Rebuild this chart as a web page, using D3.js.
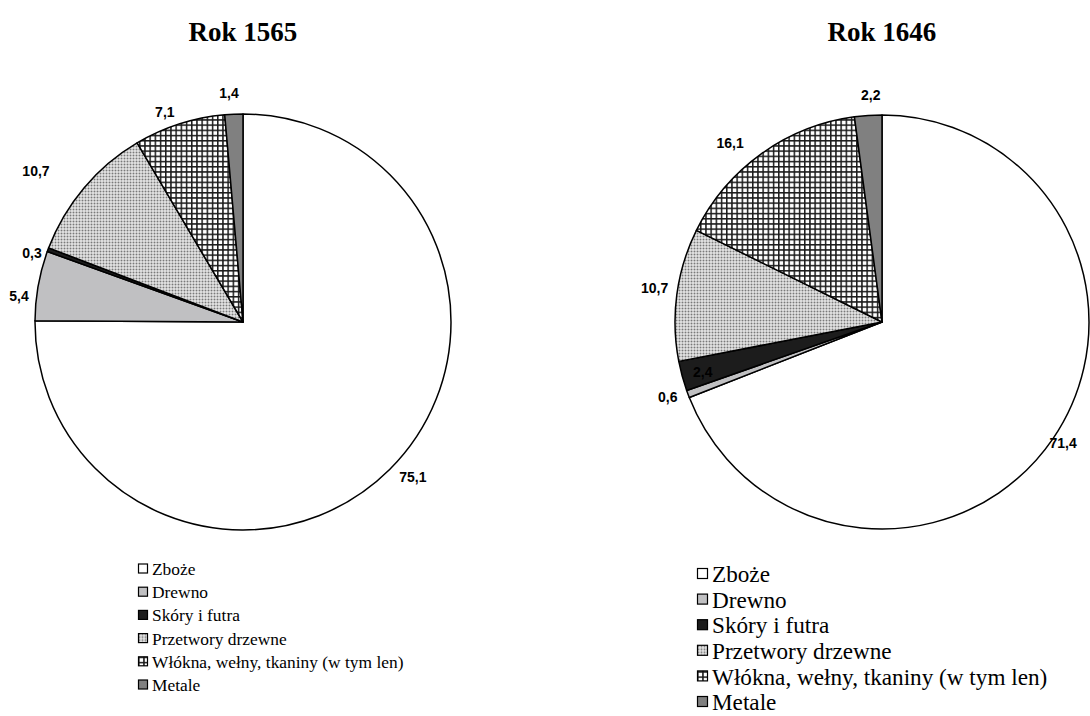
<!DOCTYPE html>
<html>
<head>
<meta charset="utf-8">
<script src="https://cdn.jsdelivr.net/npm/d3@7"></script>
<style>
  html, body { margin: 0; padding: 0; background: #fff; }
  svg { display: block; }
  .serif { font-family: "Liberation Serif", "Times New Roman", serif; }
  .sans { font-family: "Liberation Sans", Arial, sans-serif; }
</style>
</head>
<body>
<svg id="chart" width="1090" height="716"></svg>
<script>
// ---- DATA ----
const categories = ["Zboże", "Drewno", "Skóry i futra", "Przetwory drzewne", "Włókna, wełny, tkaniny (w tym len)", "Metale"];
const titles = ["Rok 1565", "Rok 1646"];
const values1565 = [75.1, 5.4, 0.3, 10.7, 7.1, 1.4];
const values1646 = [71.4, 0.6, 2.4, 10.7, 16.1, 2.2];
const labels1565 = ["75,1", "5,4", "0,3", "10,7", "7,1", "1,4"];
const labels1646 = ["71,4", "0,6", "2,4", "10,7", "16,1", "2,2"];

// ---- LAYOUT ----
const svg = d3.select("#chart");
const defs = svg.append("defs");

// dotted pattern
const pd = defs.append("pattern").attr("id", "dots").attr("patternUnits", "userSpaceOnUse")
  .attr("width", 3).attr("height", 3);
pd.append("rect").attr("width", 3).attr("height", 3).attr("fill", "#fff");
pd.append("rect").attr("x", 0.5).attr("y", 0.5).attr("width", 2).attr("height", 2).attr("fill", "#7a7a7a");

// grid pattern
const pg = defs.append("pattern").attr("id", "grid").attr("patternUnits", "userSpaceOnUse")
  .attr("width", 5.2).attr("height", 5.2);
pg.append("rect").attr("width", 5.2).attr("height", 5.2).attr("fill", "#fff");
pg.append("rect").attr("x", 0).attr("y", 0).attr("width", 5.2).attr("height", 1.5).attr("fill", "#1a1a1a");
pg.append("rect").attr("x", 0).attr("y", 0).attr("width", 1.5).attr("height", 5.2).attr("fill", "#1a1a1a");

const fills = ["#ffffff", "#c0c0c2", "#1c1c1c", "url(#dots)", "url(#grid)", "#808080"];
const color = d3.scaleOrdinal().domain(categories).range(fills);

const charts = [
  { title: titles[0], values: values1565, labels: labels1565, cx: 243, cy: 322, r: 208,
    labelPos: [[230, -2.8], [225.5, -3.5], [222, -2.2], [256, -4.1], [224, -2.6], [229, -1]],
    legend: { x: 138, y: 569, step: 23.2, box: 10, font: 17.4 } },
  { title: titles[1], values: values1646, labels: labels1646, cx: 882, cy: 322, r: 207,
    labelPos: [[218, -0.5], [227, 1.1], [186, -0.4], [230, 0.9], [235, -4.6], [227, 1]],
    legend: { x: 697, y: 574, step: 25.6, box: 11, font: 23.2 } }
];

const pie = d3.pie().sort(null).value(d => d.v);

charts.forEach(c => {
  const g = svg.append("g").attr("transform", `translate(${c.cx},${c.cy})`);
  const data = categories.map((k, i) => ({ k, v: c.values[i], label: c.labels[i], lp: c.labelPos[i] }));
  const arcs = pie(data);
  const arc = d3.arc().innerRadius(0).outerRadius(c.r);

  g.selectAll("path.slice").data(arcs).enter().append("path")
    .attr("class", "slice")
    .attr("d", arc)
    .attr("fill", d => color(d.data.k))
    .attr("stroke", "#000")
    .attr("stroke-width", 1.5)
    .attr("stroke-linejoin", "round");

  g.selectAll("text.lbl").data(arcs).enter().append("text")
    .attr("class", "lbl sans")
    .attr("transform", d => {
      const a = (d.startAngle + d.endAngle) / 2 + d.data.lp[1] * Math.PI / 180;
      const R = d.data.lp[0];
      return `translate(${R * Math.sin(a)},${-R * Math.cos(a)})`;
    })
    .attr("text-anchor", "middle")
    .attr("dy", "0.35em")
    .attr("font-weight", "bold")
    .attr("font-size", 14)
    .attr("fill", "#000")
    .text(d => d.data.label);

  svg.append("text")
    .attr("class", "serif")
    .attr("x", c.cx).attr("y", 41)
    .attr("text-anchor", "middle")
    .attr("font-weight", "bold")
    .attr("font-size", 27)
    .text(c.title);

  const L = c.legend;
  const lg = svg.append("g");
  const rows = lg.selectAll("g").data(categories).enter().append("g")
    .attr("transform", (d, i) => `translate(${L.x},${L.y + i * L.step})`);
  rows.append("rect")
    .attr("x", 0.5).attr("y", -L.box / 2)
    .attr("width", L.box - 1).attr("height", L.box - 1)
    .attr("fill", d => color(d))
    .attr("stroke", "#000").attr("stroke-width", 1.2);
  rows.append("text")
    .attr("class", "serif")
    .attr("x", L.box + 4).attr("y", 0)
    .attr("dy", "0.35em")
    .attr("font-size", L.font)
    .attr("fill", "#000")
    .text(d => d);
});
</script>
</body>
</html>
